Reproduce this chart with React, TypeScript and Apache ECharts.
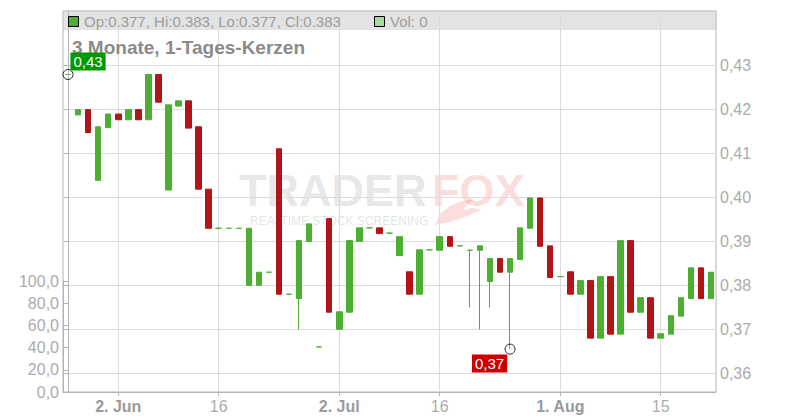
import React, { useEffect, useRef } from "react";
import * as echarts from "echarts";

// ---- data ----
const dates = [
  "2025-05-26", "2025-05-27", "2025-05-28", "2025-05-29", "2025-05-30",
  "2025-06-02", "2025-06-03", "2025-06-04", "2025-06-05", "2025-06-06",
  "2025-06-09", "2025-06-10", "2025-06-11", "2025-06-12", "2025-06-13",
  "2025-06-16", "2025-06-17", "2025-06-18", "2025-06-19", "2025-06-20",
  "2025-06-23", "2025-06-24", "2025-06-25", "2025-06-26", "2025-06-27",
  "2025-06-30", "2025-07-01", "2025-07-02", "2025-07-03", "2025-07-04",
  "2025-07-07", "2025-07-08", "2025-07-09", "2025-07-10", "2025-07-11",
  "2025-07-14", "2025-07-15", "2025-07-16", "2025-07-17", "2025-07-18",
  "2025-07-21", "2025-07-22", "2025-07-23", "2025-07-24", "2025-07-25",
  "2025-07-28", "2025-07-29", "2025-07-30", "2025-07-31", "2025-08-01",
  "2025-08-04", "2025-08-05", "2025-08-06", "2025-08-07", "2025-08-08",
  "2025-08-11", "2025-08-12", "2025-08-13", "2025-08-14", "2025-08-15",
  "2025-08-18", "2025-08-19", "2025-08-20", "2025-08-21", "2025-08-22",
];

const opens = [
  0.428, 0.4188, 0.42, 0.4039, 0.4159, 0.419, 0.4177, 0.42, 0.4177, 0.428,
  0.4017, 0.4208, 0.422, 0.4161, 0.4019, 0.393, 0.393, 0.393, 0.38, 0.38,
  0.383, 0.4111, 0.378, 0.377, 0.39, 0.366, 0.3952, 0.37, 0.3739, 0.39,
  0.3931, 0.3931, 0.3919, 0.3868, 0.3831, 0.378, 0.3881, 0.388, 0.3911, 0.389,
  0.388, 0.388, 0.3809, 0.3861, 0.383, 0.3859, 0.393, 0.3999, 0.389, 0.382,
  0.3831, 0.378, 0.3811, 0.368, 0.382, 0.3689, 0.3902, 0.3739, 0.3772, 0.368,
  0.3689, 0.373, 0.377, 0.384, 0.377,
];

const closes = [
  0.428, 0.42, 0.4148, 0.4161, 0.419, 0.4177, 0.42, 0.4177, 0.428, 0.4217,
  0.4211, 0.422, 0.4158, 0.4019, 0.393, 0.393, 0.393, 0.393, 0.393, 0.383,
  0.383, 0.378, 0.378, 0.3902, 0.394, 0.366, 0.3739, 0.374, 0.3902, 0.3931,
  0.3931, 0.3918, 0.3919, 0.3911, 0.378, 0.3881, 0.3881, 0.3911, 0.3889, 0.389,
  0.388, 0.389, 0.3861, 0.383, 0.3861, 0.3931, 0.3999, 0.3889, 0.3818, 0.382,
  0.378, 0.3811, 0.368, 0.382, 0.3689, 0.3902, 0.3739, 0.3772, 0.368, 0.369,
  0.3731, 0.3772, 0.384, 0.377, 0.383,
];

const lows = [
  0.428, 0.4188, 0.4148, 0.4039, 0.4159, 0.4177, 0.4177, 0.4177, 0.4177, 0.4217,
  0.4017, 0.4208, 0.4158, 0.4019, 0.393, 0.393, 0.393, 0.393, 0.38, 0.38,
  0.383, 0.378, 0.378, 0.37, 0.39, 0.366, 0.3739, 0.37, 0.3739, 0.39,
  0.3931, 0.3918, 0.3919, 0.3868, 0.378, 0.378, 0.3881, 0.388, 0.3889, 0.389,
  0.375, 0.37, 0.375, 0.383, 0.3655, 0.3859, 0.393, 0.3889, 0.3818, 0.382,
  0.378, 0.378, 0.368, 0.368, 0.3689, 0.3689, 0.3739, 0.3739, 0.368, 0.368,
  0.3689, 0.373, 0.377, 0.377, 0.377,
];

const highs = [
  0.428, 0.42, 0.42, 0.4161, 0.419, 0.419, 0.42, 0.42, 0.428, 0.428,
  0.4211, 0.422, 0.422, 0.4161, 0.4019, 0.393, 0.393, 0.393, 0.393, 0.383,
  0.383, 0.4111, 0.378, 0.3902, 0.394, 0.366, 0.3952, 0.374, 0.3902, 0.3931,
  0.3931, 0.3931, 0.3919, 0.3911, 0.3831, 0.3881, 0.3881, 0.3911, 0.3911, 0.389,
  0.388, 0.389, 0.3861, 0.3861, 0.3861, 0.3931, 0.3999, 0.3999, 0.389, 0.382,
  0.3831, 0.3811, 0.3811, 0.382, 0.382, 0.3902, 0.3902, 0.3772, 0.3772, 0.369,
  0.3731, 0.3772, 0.384, 0.384, 0.383,
];

const lastVolume = 0;

const dateTickLabels: Record<string, string> = {
  "2025-06-02": "2. Jun",
  "2025-06-16": "16",
  "2025-07-02": "2. Jul",
  "2025-07-16": "16",
  "2025-08-01": "1. Aug",
  "2025-08-15": "15",
};
const monthStartDates = ["2025-06-02", "2025-07-02", "2025-08-01"];

const priceTicks = [0.36, 0.37, 0.38, 0.39, 0.4, 0.41, 0.42, 0.43];
const volumeTicks = [0, 20, 40, 60, 80, 100];

const titleText = "3 Monate, 1-Tages-Kerzen";

// ---- styling / layout constants ----
const UP = "#4caf32";
const DOWN = "#b31417";
const PRICE_MIN = 0.35574;
const PRICE_MAX = 0.44245;
const FONT = '"Liberation Sans", Arial, sans-serif';

const deComma = (v: number, d: number) => v.toFixed(d).replace(".", ",");

export default function App() {
  const ref = useRef<HTMLDivElement>(null);

  useEffect(() => {
    if (!ref.current) return;
    const chart = echarts.init(ref.current, null, { renderer: "svg" });

    const tickIdx = dates
      .map((d, i) => (dateTickLabels[d] ? i : -1))
      .filter((i) => i >= 0);

    let maxIdx = 0;
    let minIdx = 0;
    highs.forEach((h, i) => {
      if (h > highs[maxIdx]) maxIdx = i;
    });
    lows.forEach((l, i) => {
      if (l < lows[minIdx]) minIdx = i;
    });

    const n = dates.length;
    const last = n - 1;
    const headerText =
      "Op:" + opens[last].toFixed(3) +
      ", Hi:" + highs[last].toFixed(3) +
      ", Lo:" + lows[last].toFixed(3) +
      ", Cl:" + closes[last].toFixed(3);

    const candleData = dates.map((d, i) => {
      const item: any = { value: [opens[i], closes[i], lows[i], highs[i]] };
      if (opens[i] === closes[i]) {
        item.itemStyle = { color: UP, color0: UP, borderColor: UP, borderColor0: UP };
      }
      return item;
    });

    const axisColor = "#b4b4b4";
    const gridColor = "#dcdcdc";

    const option: any = {
      animation: false,
      textStyle: { fontFamily: FONT },
      grid: [
        { left: 63, right: 84, top: 11, bottom: 28, show: true, borderColor: axisColor, borderWidth: 1, backgroundColor: "transparent" },
        { left: 63, right: 84, top: 281, bottom: 28, show: false },
      ],
      xAxis: [
        { type: "category", gridIndex: 0, data: dates, show: false, boundaryGap: true },
        {
          type: "value",
          gridIndex: 0,
          min: -0.5,
          max: n - 0.5,
          position: "bottom",
          axisLine: { show: true, onZero: false, lineStyle: { color: axisColor } },
          axisTick: { show: true, customValues: tickIdx, length: 4, lineStyle: { color: axisColor } },
          axisLabel: {
            customValues: tickIdx,
            margin: 6,
            formatter: (v: number) => {
              const d = dates[Math.round(v)];
              const t = dateTickLabels[d] || "";
              return monthStartDates.includes(d) ? "{b|" + t + "}" : "{n|" + t + "}";
            },
            rich: {
              b: { fontWeight: "bold", color: "#9a9a9a", fontSize: 16, fontFamily: FONT },
              n: { color: "#ababab", fontSize: 16, fontFamily: FONT },
            },
          },
          splitLine: { show: true, lineStyle: { color: gridColor, width: 1 } },
        },
        { type: "category", gridIndex: 1, data: dates, show: false },
      ],
      yAxis: [
        {
          type: "value",
          gridIndex: 0,
          position: "right",
          min: PRICE_MIN,
          max: PRICE_MAX,
          axisLine: { show: true, lineStyle: { color: axisColor } },
          axisTick: { show: true, inside: true, length: 4, customValues: priceTicks, lineStyle: { color: axisColor } },
          axisLabel: {
            customValues: priceTicks,
            margin: 4,
            color: "#ababab",
            fontSize: 16,
            formatter: (v: number) => deComma(v, 2),
          },
          splitLine: { show: true, lineStyle: { color: gridColor, width: 1 } },
        },
        {
          type: "value",
          gridIndex: 1,
          position: "left",
          min: volumeTicks[0],
          max: volumeTicks[volumeTicks.length - 1],
          interval: 20,
          axisLine: { show: true, lineStyle: { color: axisColor } },
          axisTick: { show: true, inside: true, length: 5, lineStyle: { color: axisColor } },
          axisLabel: {
            margin: 4,
            color: "#ababab",
            fontSize: 16,
            formatter: (v: number) => deComma(v, 1),
          },
          splitLine: { show: false },
        },
      ],
      graphic: [
        // header bar
        { type: "rect", z: -2, shape: { x: 63.5, y: 11.5, width: 652.5, height: 18.5 }, style: { fill: "#e3e3e3" } },
        { type: "rect", z: 5, shape: { x: 68.5, y: 16.5, width: 10, height: 10 }, style: { fill: UP, stroke: "#000", lineWidth: 1 } },
        { type: "text", z: 5, x: 84, y: 21.5, style: { text: headerText, fill: "#9c9c9c", font: "15px " + FONT, textVerticalAlign: "middle" } },
        { type: "rect", z: 5, shape: { x: 374.5, y: 16.5, width: 10, height: 10 }, style: { fill: "#a8d9a0", stroke: "#000", lineWidth: 1 } },
        { type: "text", z: 5, x: 390, y: 21.5, style: { text: "Vol: " + lastVolume, fill: "#9c9c9c", font: "15px " + FONT, textVerticalAlign: "middle" } },
        // title
        { type: "text", z: 5, x: 72, y: 47, style: { text: titleText, fill: "#8a8a8a", font: "bold 19px " + FONT, textVerticalAlign: "middle" } },
        // watermark
        { type: "text", z: -1, x: 239, y: 190.5, style: { text: "TRADER", fill: "rgba(175,175,175,0.3)", font: "bold 45px " + FONT, textVerticalAlign: "middle" } },
        { type: "text", z: -1, x: 432, y: 190.5, style: { text: "FOX", fill: "rgba(240,120,120,0.25)", font: "bold 45px " + FONT, textVerticalAlign: "middle" } },
        { type: "text", z: -1, x: 250, y: 221, style: { text: "REALTIME STOCK SCREENING", fill: "rgba(175,175,175,0.35)", font: "12px " + FONT, textVerticalAlign: "middle" } },
        {
          type: "polygon",
          z: -1,
          shape: { points: [[435, 225], [440, 214], [450, 206], [463, 201], [474, 199], [467, 205], [463, 210], [472, 208], [482, 210], [472, 214], [462, 218], [450, 222]] },
          style: { fill: "rgba(240,120,120,0.25)" },
        },
      ],
      series: [
        {
          type: "candlestick",
          xAxisIndex: 0,
          yAxisIndex: 0,
          data: candleData,
          barWidth: 6,
          itemStyle: { color: UP, color0: DOWN, borderColor: UP, borderColor0: DOWN, borderWidth: 1 },
          markPoint: {
            silent: true,
            symbol: "circle",
            symbolSize: 10,
            itemStyle: { color: "rgba(255,255,255,0.2)", borderColor: "#222", borderWidth: 1 },
            data: [
              {
                coord: [dates[maxIdx], highs[maxIdx]],
                value: highs[maxIdx],
                label: {
                  show: true,
                  position: "inside",
                  offset: [20, -13],
                  formatter: deComma(highs[maxIdx], 2),
                  backgroundColor: "#009900",
                  color: "#fff",
                  fontSize: 15,
                  padding: [2, 3, 1, 3],
                },
              },
              {
                coord: [dates[minIdx], lows[minIdx]],
                value: lows[minIdx],
                label: {
                  show: true,
                  position: "inside",
                  offset: [-20.5, 14.5],
                  formatter: deComma(lows[minIdx], 2),
                  backgroundColor: "#cc0000",
                  color: "#fff",
                  fontSize: 15,
                  padding: [2, 3, 1, 3],
                },
              },
            ],
          },
        },
      ],
    };

    chart.setOption(option);
    return () => chart.dispose();
  }, []);

  return (
    <div
      ref={ref}
      style={{ position: "fixed", left: 0, top: 0, width: 800, height: 420, background: "#fff" }}
    />
  );
}
